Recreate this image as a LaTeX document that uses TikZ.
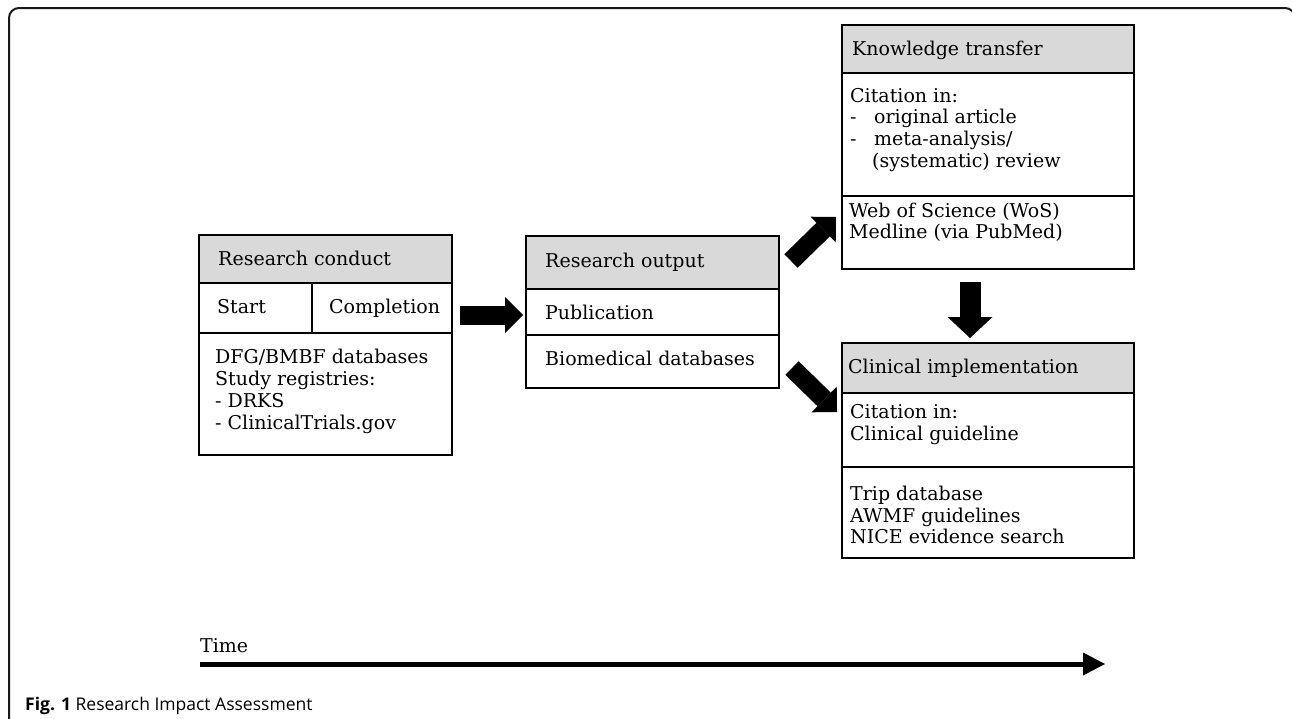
\documentclass[tikz,border=0pt]{standalone}
\usepackage{fontspec}
\setmainfont{DejaVu Serif}
\newfontfamily\capfont{Open Sans}
\usetikzlibrary{arrows.meta}
\definecolor{hdrgray}{HTML}{D9D9D9}
\begin{document}
\begin{tikzpicture}[x=1pt,y=-1pt,
  sec/.style={draw=black, line width=1.3pt, inner sep=0pt, outer sep=0pt, anchor=north west},
  hdr/.style={sec, fill=hdrgray},
  lbl/.style={anchor=base west, inner sep=0pt, font=\fontsize{19}{21.5}\selectfont},
  blk/.style={line width=19pt, -{Triangle[width=36pt,length=18pt,line width=0pt]}},
  blkv/.style={line width=21pt, -{Triangle[width=45pt,length=21pt,line width=0pt]}},
  timearrow/.style={line width=5pt, -{Triangle[width=23pt,length=22pt,line width=0pt]}},
  frame/.style={draw=black!90, line width=2pt, rounded corners=10pt}
]
\useasboundingbox (0,0) rectangle (1292,718);
\draw[frame] (9,740) -- (9,8) -- (1295,8) -- (1295,740);

% Research conduct
\node[hdr, minimum width=253pt, minimum height=48pt] (rcH) at (199,235) {};
\node[sec, minimum width=113pt, minimum height=50pt] (rcS) at (199,283) {};
\node[sec, minimum width=140pt, minimum height=50pt] (rcC) at (312,283) {};
\node[sec, minimum width=253pt, minimum height=122pt] (rcD) at (199,333) {};
\node[lbl] (t1) at (218,265) {Research conduct};
\node[lbl] (t2) at (217,313) {Start};
\node[lbl] (t3) at (329,313) {Completion};
\node[lbl] (t4) at (215,363) {DFG/BMBF databases};
\node[lbl] (t5) at (215,385) {Study registries:};
\node[lbl] (t6) at (215,407) {- DRKS};
\node[lbl] (t7) at (215,429) {- ClinicalTrials.gov};

% Research output
\node[hdr, minimum width=253pt, minimum height=53pt] (roH) at (526,236) {};
\node[sec, minimum width=253pt, minimum height=46pt] (roP) at (526,289) {};
\node[sec, minimum width=253pt, minimum height=53pt] (roB) at (526,335) {};
\node[lbl] (t8) at (545,267) {Research output};
\node[lbl] (t9) at (545,319) {Publication};
\node[lbl] (t10) at (545,365) {Biomedical databases};

% Knowledge transfer
\node[hdr, minimum width=292pt, minimum height=48pt] (ktH) at (842,25) {};
\node[sec, minimum width=292pt, minimum height=123pt] (ktC) at (842,73) {};
\node[sec, minimum width=292pt, minimum height=73pt] (ktW) at (842,196) {};
\node[lbl] (t11) at (852,55) {Knowledge transfer};
\node[lbl] (t12) at (850,102) {Citation in:};
\node[lbl] (t13) at (850,123) {\makebox[24pt][l]{-}original article};
\node[lbl] (t14) at (850,145) {\makebox[24pt][l]{-}meta-analysis/};
\node[lbl] (t15) at (872,167) {(systematic) review};
\node[lbl] (t16) at (849,217) {Web of Science (WoS)};
\node[lbl] (t17) at (849,238) {Medline (via PubMed)};

% Clinical implementation
\node[hdr, minimum width=292pt, minimum height=50pt] (ciH) at (842,343) {};
\node[sec, minimum width=292pt, minimum height=74pt] (ciC) at (842,393) {};
\node[sec, minimum width=292pt, minimum height=91pt] (ciD) at (842,467) {};
\node[lbl] (t18) at (848,373) {Clinical implementation};
\node[lbl] (t19) at (850,418) {Citation in:};
\node[lbl] (t20) at (850,440) {Clinical guideline};
\node[lbl] (t21) at (850,500) {Trip database};
\node[lbl] (t22) at (850,522) {AWMF guidelines};
\node[lbl] (t23) at (850,543) {NICE evidence search};

% block arrows
\coordinate (a0) at (460,315);
\coordinate (a1) at (523,315);
\coordinate (b0) at (791,261);
\coordinate (b1) at (836,217);
\coordinate (c0) at (792,368);
\coordinate (c1) at (837,412);
\coordinate (d0) at (970,282);
\coordinate (d1) at (970,338);
\draw[blk] (a0) -- (a1);
\draw[blk] (b0) -- (b1);
\draw[blk] (c0) -- (c1);
\draw[blkv] (d0) -- (d1);

% time
\node[lbl] (tT) at (200,652) {Time};
\coordinate (tm0) at (200,664);
\coordinate (tm1) at (1105,664);
\draw[timearrow] (tm0) -- (tm1);

% caption
\node[anchor=base west, inner sep=0pt, font=\capfont\fontsize{17.5}{20}\selectfont] (cap) at (25,710) {\textbf{Fig. 1} Research Impact Assessment};
\end{tikzpicture}
\end{document}
